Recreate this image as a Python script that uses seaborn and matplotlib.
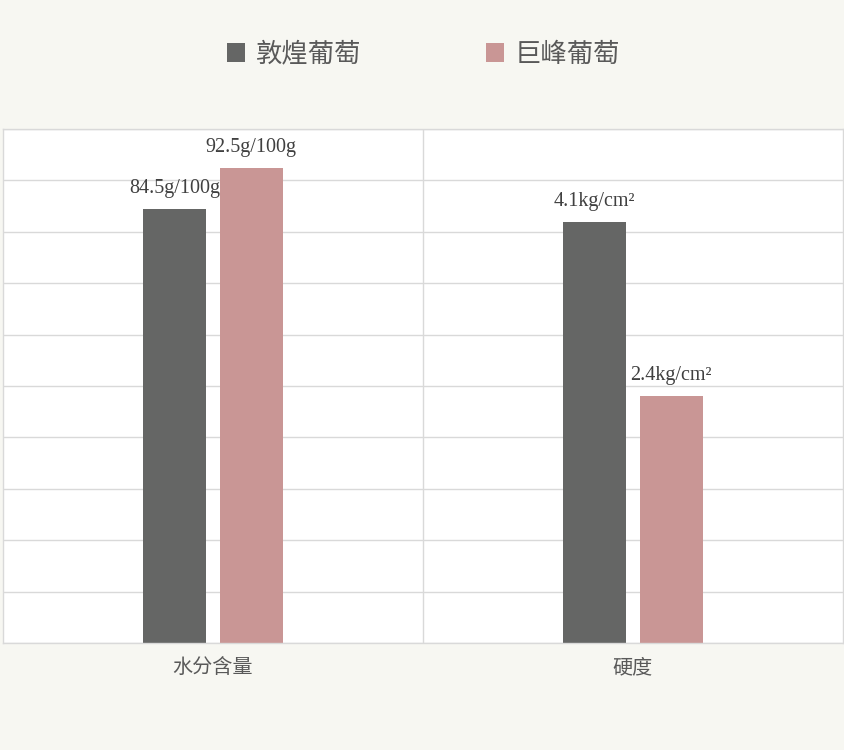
import numpy as np
import pandas as pd
import matplotlib
matplotlib.use("Agg")
from matplotlib import pyplot as plt
import seaborn as sns

# data
categories = ["水分含量", "硬度"]
series = ["敦煌葡萄", "巨峰葡萄"]
dunhuang = [84.5, 4.1]
jufeng = [92.5, 2.4]
scale_max = [100, 5]          # each category is drawn against its own full scale
units = ["g/100g", "kg/cm²"]
colors = ["#656665", "#c99695"]

rows = []
for name, vals in zip(series, [dunhuang, jufeng]):
    for cat, v, smax, u in zip(categories, vals, scale_max, units):
        rows.append({"cat": cat, "series": name, "value": v,
                     "norm": v / smax, "label": f"{v}{u}"})
df = pd.DataFrame(rows)

sns.set_style("white")
plt.rcParams["font.family"] = ["Noto Sans CJK SC", "DejaVu Sans"]

bg = "#f7f7f2"
grid_c = "#d9d9d9"
text_c = "#595959"

fig = plt.figure(figsize=(8.45, 7.5), dpi=100, facecolor=bg)
ax = fig.add_axes([3 / 845, 107 / 750, 840 / 845, 514 / 750])
ax.set_facecolor("white")

sns.barplot(data=df, x="cat", y="norm", hue="series", hue_order=series,
            palette=colors, width=0.365, gap=0.18, saturation=1,
            linewidth=0, ax=ax, legend=True)

# value labels above bars
for cont, name in zip(ax.containers, series):
    sub = df[df["series"] == name].set_index("cat").loc[categories]
    for bar, lab in zip(cont, sub["label"]):
        ax.annotate(lab, (bar.get_x() + bar.get_width() / 2, bar.get_height()),
                    xytext=(0, 11.5), textcoords="offset points",
                    ha="center", va="baseline", fontsize=14.5,
                    color="#404040", family=["Liberation Serif", "DejaVu Serif"])

ax.set_ylim(0, 1)
ax.set_xlim(-0.5, 1.5)
ax.set_yticks(np.arange(0, 1.01, 0.1))
ax.set_yticklabels([])
ax.set_xticks([0.5], minor=True)
ax.grid(axis="y", color=grid_c, linewidth=1)
ax.grid(axis="x", which="minor", color=grid_c, linewidth=1)
ax.set_axisbelow(True)
ax.tick_params(axis="both", which="both", length=0)
ax.tick_params(axis="x", pad=10, labelsize=14.5, labelcolor=text_c)
ax.set_xlabel("")
ax.set_ylabel("")
for s in ax.spines.values():
    s.set_color(grid_c)
    s.set_linewidth(1)

handles, labels = ax.get_legend_handles_labels()
ax.legend_.remove()
fig.legend(handles, labels, loc="center", bbox_to_anchor=(423.5 / 845, 1 - 54 / 750),
           ncol=2, frameon=False, fontsize=19, labelcolor=text_c,
           handlelength=0.7, handleheight=0.7, handletextpad=0.4,
           columnspacing=4.7)

fig.savefig("out.png", dpi=100, facecolor=bg)
